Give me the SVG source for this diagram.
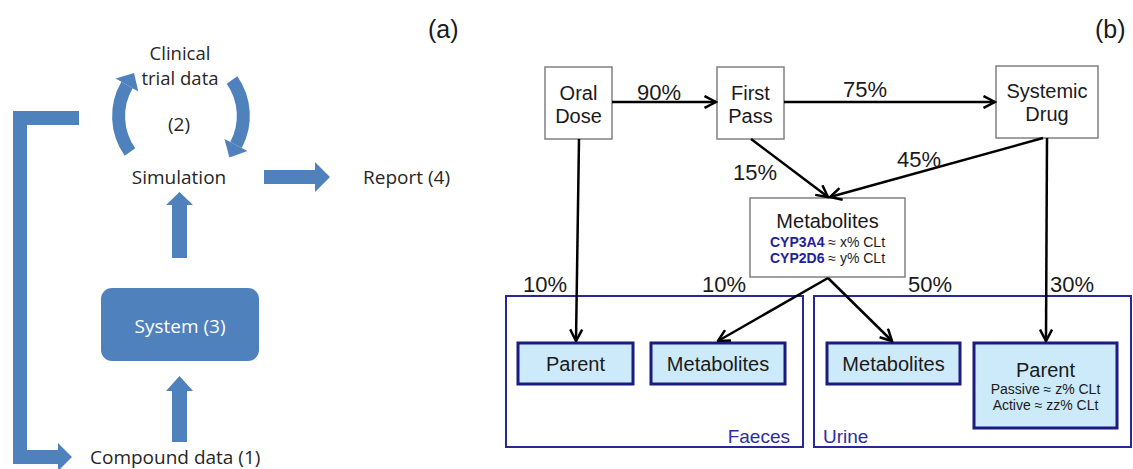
<svg xmlns="http://www.w3.org/2000/svg" width="1133" height="469" viewBox="0 0 1133 469">
<style>
.a{font-family:"Open Sans","Liberation Sans",sans-serif;font-size:19px;fill:#262626}
.blue{fill:#4F81BD}
.arc{fill:none;stroke:#4F81BD;stroke-width:13}
.b{font-family:"Liberation Sans",Arial,sans-serif;font-size:20px;fill:#1a1a1a}
.pct{font-family:"Liberation Sans",Arial,sans-serif;font-size:22px;fill:#1a1a1a}
.sm{font-family:"Liberation Sans",Arial,sans-serif;font-size:14px;fill:#1a1a1a}
.cyp{font-weight:bold;fill:#22229a}
.box{fill:#fff;stroke:#808080;stroke-width:1.5}
.cont{fill:none;stroke:#27279a;stroke-width:2}
.inner{fill:#cdeafa;stroke:#1b1b80;stroke-width:3}
.clab{font-family:"Liberation Sans",Arial,sans-serif;font-size:19px;fill:#2e2ea0}
.lbl{font-family:"Liberation Sans",Arial,sans-serif;font-size:25px;fill:#1a1a1a}
.con{fill:none;stroke:#000;stroke-width:2.5;marker-end:url(#ah)}
</style>
<defs>
<marker id="ah" viewBox="0 0 14 14" refX="12.5" refY="7" markerWidth="14" markerHeight="14" markerUnits="userSpaceOnUse" orient="auto">
<path d="M1,1 L12.5,7 L1,13" fill="none" stroke="#000" stroke-width="2.5"/>
</marker>
</defs>

<!-- Panel (a) -->
<text class="lbl" x="428" y="38">(a)</text>
<g id="clinical">
<text class="a" x="180" y="60" text-anchor="middle" style="font-size:18.5px">Clinical</text>
<text class="a" x="180" y="85" text-anchor="middle" style="font-size:18.5px">trial data</text>
</g>
<g id="loop-label"><text class="a" x="179" y="131" text-anchor="middle">(2)</text></g>
<g id="simulation"><text class="a" x="179" y="184" text-anchor="middle">Simulation</text></g>
<g id="report"><text class="a" x="363" y="184">Report (4)</text></g>
<g id="system">
<rect class="blue" x="101" y="288" width="158" height="73" rx="11"/>
<text class="a" x="180" y="333" text-anchor="middle" style="fill:#fff">System (3)</text>
</g>
<g id="compound"><text class="a" x="90" y="464">Compound data (1)</text></g>

<g id="connectors-a">
<path class="arc" d="M130,152 A62,62 0 0 1 127,85"/>
<polygon class="blue" points="138.3,91.5 134,72.9 115.7,78.5"/>
<path class="arc" d="M232,80 A62,62 0 0 1 236,145"/>
<polygon class="blue" points="247.5,151.1 229.4,157.4 224.5,138.9"/>
<polygon class="blue" points="264,170 315,170 315,162 330,177 315,192 315,184 264,184"/>
<polygon class="blue" points="172,258 172,205 166,205 179.5,192 193,205 187,205 187,258"/>
<polygon class="blue" points="172,442 172,391 166,391 179.5,376 193,391 187,391 187,442"/>
<polygon class="blue" points="79,111 13,111 13,464 58,464 58,471 72,457 58,443 58,450 27,450 27,125 79,125"/>
</g>

<!-- Panel (b) -->
<text class="lbl" x="1095" y="38">(b)</text>
<g id="faeces">
<rect class="cont" x="506" y="296" width="297" height="151"/>
<text class="clab" x="790" y="443" text-anchor="end">Faeces</text>
</g>
<g id="urine">
<rect class="cont" x="814" y="296" width="317" height="151"/>
<text class="clab" x="823" y="443">Urine</text>
</g>
<g id="oral-dose">
<rect class="box" x="545" y="67" width="67" height="72"/>
<text class="b" x="578.5" y="100" text-anchor="middle">Oral</text>
<text class="b" x="578.5" y="123" text-anchor="middle">Dose</text>
</g>
<g id="first-pass">
<rect class="box" x="717" y="67" width="67" height="72"/>
<text class="b" x="750.5" y="100" text-anchor="middle">First</text>
<text class="b" x="750.5" y="123" text-anchor="middle">Pass</text>
</g>
<g id="systemic-drug">
<rect class="box" x="996" y="66" width="102" height="72"/>
<text class="b" x="1047" y="98" text-anchor="middle">Systemic</text>
<text class="b" x="1047" y="121" text-anchor="middle">Drug</text>
</g>
<g id="metabolites">
<rect class="box" x="750" y="198" width="155" height="79"/>
<text class="b" x="827.5" y="228" text-anchor="middle">Metabolites</text>
<text class="sm" x="827.5" y="247" text-anchor="middle"><tspan class="cyp">CYP3A4</tspan> ≈ x% CLt</text>
<text class="sm" x="827.5" y="263" text-anchor="middle"><tspan class="cyp">CYP2D6</tspan> ≈ y% CLt</text>
</g>
<g id="faeces-parent">
<rect class="inner" x="518" y="343" width="115" height="41"/>
<text class="b" x="575.5" y="371" text-anchor="middle">Parent</text>
</g>
<g id="faeces-metabolites">
<rect class="inner" x="651" y="343" width="134" height="41"/>
<text class="b" x="718" y="371" text-anchor="middle">Metabolites</text>
</g>
<g id="urine-metabolites">
<rect class="inner" x="827" y="343" width="133" height="41"/>
<text class="b" x="893.5" y="371" text-anchor="middle">Metabolites</text>
</g>
<g id="urine-parent">
<rect class="inner" x="974" y="343" width="143" height="85"/>
<text class="b" x="1045.5" y="377" text-anchor="middle">Parent</text>
<text class="sm" x="1045.5" y="394" text-anchor="middle">Passive ≈ z% CLt</text>
<text class="sm" x="1045.5" y="410" text-anchor="middle">Active ≈ zz% CLt</text>
</g>

<g id="connectors-b">
<line class="con" x1="612" y1="102" x2="716" y2="102"/>
<line class="con" x1="784" y1="102" x2="995" y2="102"/>
<line class="con" x1="751" y1="139" x2="828" y2="197"/>
<line class="con" x1="1043" y1="138" x2="830" y2="197"/>
<line class="con" x1="579" y1="139" x2="576" y2="341"/>
<line class="con" x1="1047" y1="138" x2="1046" y2="341"/>
<line class="con" x1="828" y1="278" x2="718" y2="341"/>
<line class="con" x1="828" y1="278" x2="892" y2="341"/>
<text class="pct" x="637" y="100">90%</text>
<text class="pct" x="843" y="97">75%</text>
<text class="pct" x="733" y="180">15%</text>
<text class="pct" x="897" y="167">45%</text>
<text class="pct" x="523" y="292">10%</text>
<text class="pct" x="702" y="292">10%</text>
<text class="pct" x="908" y="292">50%</text>
<text class="pct" x="1050" y="292">30%</text>
</g>
</svg>
